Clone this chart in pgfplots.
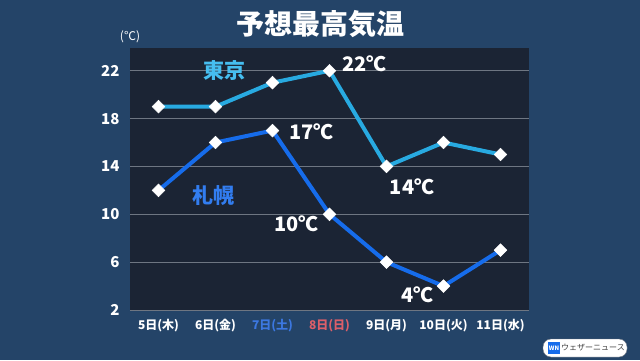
\documentclass[border=0pt]{standalone}
\usepackage{pgfplots}
\pgfplotsset{compat=1.18}
\usepackage{fontspec}
\setmainfont{Noto Sans CJK JP}
\definecolor{bgc}{RGB}{36,68,104}
\definecolor{plotbg}{RGB}{27,36,52}
\definecolor{tokyo}{RGB}{40,170,225}
\definecolor{tokyol}{RGB}{70,190,240}
\definecolor{sapporo}{RGB}{22,108,235}
\definecolor{sapporol}{RGB}{50,125,240}
\definecolor{gridc}{RGB}{110,118,130}
\definecolor{satc}{RGB}{60,120,225}
\definecolor{sunc}{RGB}{220,95,105}
\newcommand{\olabel}[4]{% x, y, text colour, text
\node[text=#3] at (axis cs:#1,#2) {#4};
}
\begin{document}
\begin{tikzpicture}[x=1pt,y=1pt]
\fill[bgc] (0,0) rectangle (640,360);
\node[text=white] at (320,336) {\fontsize{28}{30}\selectfont\bfseries 予想最高気温};
\node[text=white] at (130,323) {\fontsize{12}{12}\selectfont (℃)};
\begin{axis}[
  at={(130pt,50pt)}, anchor=south west,
  width=399pt, height=262pt, scale only axis,
  xmin=-0.5, xmax=6.5, ymin=2, ymax=23.9,
  axis background/.style={fill=plotbg},
  axis line style={draw=none},
  tick style={draw=none},
  ytick={2,6,10,14,18,22},
  ymajorgrids, grid style={gridc, line width=1pt},
  xtick={0,1,2,3,4,5,6},
  xticklabels={5日(木),6日(金),\textcolor{satc}{7日(土)},\textcolor{sunc}{8日(日)},9日(月),10日(火),11日(水)},
  /pgf/number format/assume math mode=true,
  yticklabel style={text=white, font=\fontsize{15}{15}\selectfont\bfseries, xshift=-7pt},
  xticklabel style={text=white, font=\fontsize{12}{12}\selectfont\bfseries, yshift=-6pt},
  clip=false,
]
\addplot[tokyo, line width=4pt, mark=square*, mark size=4.5pt,
  mark options={fill=white, draw=white, line width=0.5pt, rotate=45}]
  coordinates {(0,19) (1,19) (2,21) (3,22) (4,14) (5,16) (6,15)};
\addplot[sapporo, line width=4pt, mark=square*, mark size=4.5pt,
  mark options={fill=white, draw=white, line width=0.5pt, rotate=45}]
  coordinates {(0,12) (1,16) (2,17) (3,10) (4,6) (5,4) (6,7)};
\olabel{1.15}{22.0}{tokyol}{\fontsize{21}{21}\selectfont\bfseries 東京}
\olabel{0.97}{11.6}{sapporol}{\fontsize{21}{21}\selectfont\bfseries 札幌}
\olabel{3.61}{22.6}{white}{\fontsize{20}{20}\selectfont\bfseries 22℃}
\olabel{2.68}{16.94}{white}{\fontsize{20}{20}\selectfont\bfseries 17℃}
\olabel{2.42}{9.24}{white}{\fontsize{20}{20}\selectfont\bfseries 10℃}
\olabel{4.45}{12.33}{white}{\fontsize{20}{20}\selectfont\bfseries 14℃}
\olabel{4.54}{3.26}{white}{\fontsize{20}{20}\selectfont\bfseries 4℃}
\end{axis}
\draw[fill=white, draw=gridc, rounded corners=8pt] (543,3) rectangle (627,21);
\fill[sapporo] (548,6) rectangle (560,18);
\node[text=white, inner sep=0pt] at (554,12) {\fontsize{6}{6}\selectfont\bfseries WN};
\node[text=darkgray, inner sep=0pt] at (593,12) {\fontsize{8}{8}\selectfont ウェザーニュース};
\end{tikzpicture}
\end{document}
